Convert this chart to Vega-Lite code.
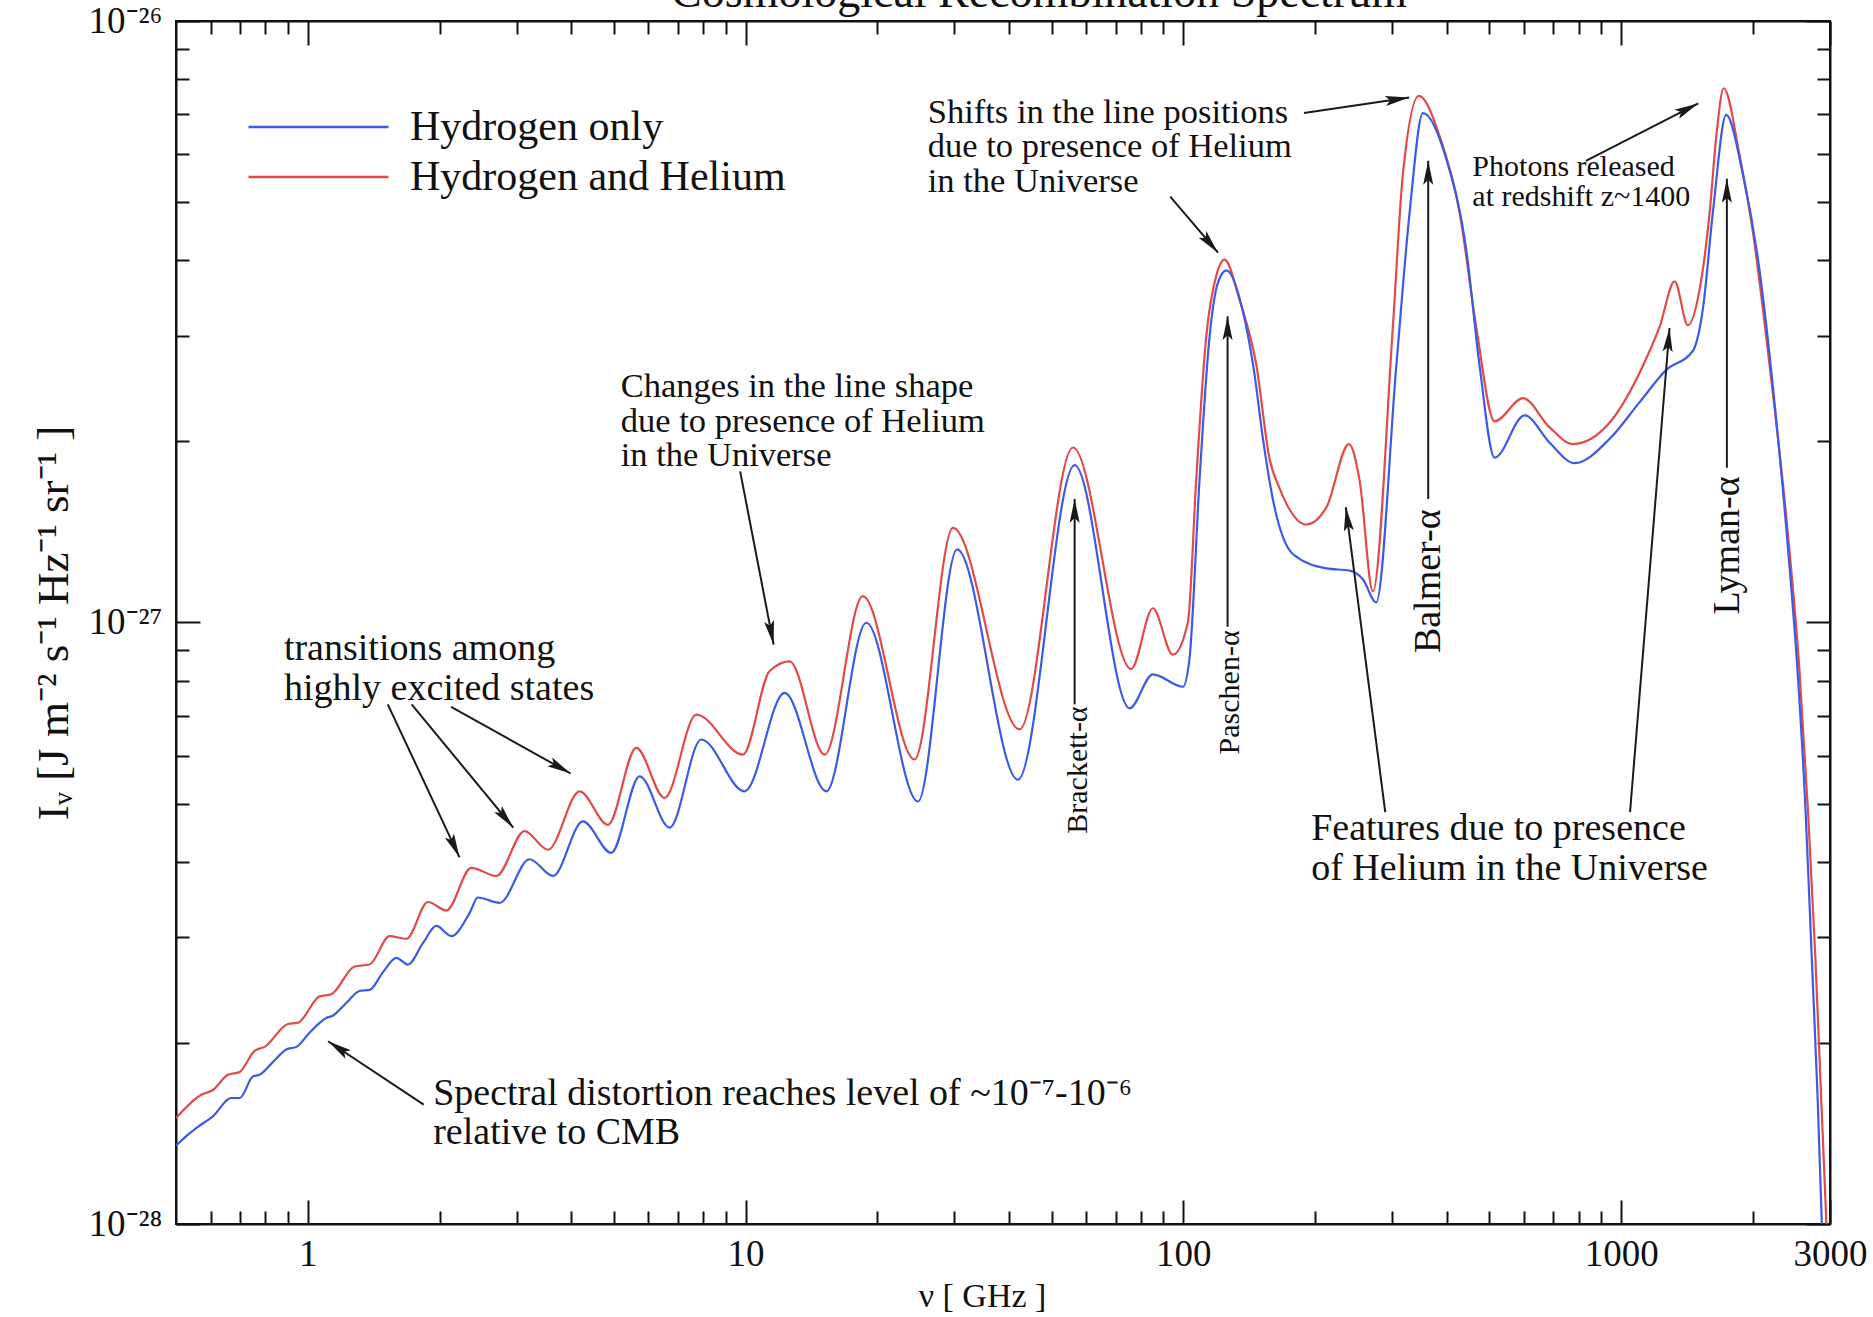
{
  "$schema": "https://vega.github.io/schema/vega-lite/v6.json",
  "width": 1654,
  "height": 1203,
  "autosize": {"type": "none"},
  "padding": {"left": 176, "top": 21, "right": 43, "bottom": 93},
  "background": "white",
  "title": {"text": "Cosmological Recombination Spectrum", "font": "Liberation Serif", "fontSize": 46, "fontWeight": "normal", "color": "#111", "anchor": "middle", "frame": "group", "baseline": "alphabetic", "offset": -13, "dy": 38, "dx": 36},
  "datasets": {
    "spectrum": [
      {"nu": 0.5, "I": 1.50e-28, "series": "Hydrogen and Helium"},
      {"nu": 0.571, "I": 1.64e-28, "series": "Hydrogen and Helium"},
      {"nu": 0.607, "I": 1.67e-28, "series": "Hydrogen and Helium"},
      {"nu": 0.657, "I": 1.77e-28, "series": "Hydrogen and Helium"},
      {"nu": 0.699, "I": 1.79e-28, "series": "Hydrogen and Helium"},
      {"nu": 0.756, "I": 1.94e-28, "series": "Hydrogen and Helium"},
      {"nu": 0.797, "I": 1.97e-28, "series": "Hydrogen and Helium"},
      {"nu": 0.901, "I": 2.15e-28, "series": "Hydrogen and Helium"},
      {"nu": 0.949, "I": 2.16e-28, "series": "Hydrogen and Helium"},
      {"nu": 1.064, "I": 2.39e-28, "series": "Hydrogen and Helium"},
      {"nu": 1.132, "I": 2.41e-28, "series": "Hydrogen and Helium"},
      {"nu": 1.279, "I": 2.68e-28, "series": "Hydrogen and Helium"},
      {"nu": 1.384, "I": 2.70e-28, "series": "Hydrogen and Helium"},
      {"nu": 1.538, "I": 3.01e-28, "series": "Hydrogen and Helium"},
      {"nu": 1.680, "I": 2.98e-28, "series": "Hydrogen and Helium"},
      {"nu": 1.882, "I": 3.43e-28, "series": "Hydrogen and Helium"},
      {"nu": 2.073, "I": 3.32e-28, "series": "Hydrogen and Helium"},
      {"nu": 2.363, "I": 3.91e-28, "series": "Hydrogen and Helium"},
      {"nu": 2.696, "I": 3.79e-28, "series": "Hydrogen and Helium"},
      {"nu": 3.128, "I": 4.50e-28, "series": "Hydrogen and Helium"},
      {"nu": 3.535, "I": 4.19e-28, "series": "Hydrogen and Helium"},
      {"nu": 4.178, "I": 5.24e-28, "series": "Hydrogen and Helium"},
      {"nu": 4.850, "I": 4.61e-28, "series": "Hydrogen and Helium"},
      {"nu": 5.627, "I": 6.19e-28, "series": "Hydrogen and Helium"},
      {"nu": 6.531, "I": 5.11e-28, "series": "Hydrogen and Helium"},
      {"nu": 7.720, "I": 7.03e-28, "series": "Hydrogen and Helium"},
      {"nu": 9.863, "I": 6.03e-28, "series": "Hydrogen and Helium"},
      {"nu": 11.34, "I": 8.30e-28, "series": "Hydrogen and Helium"},
      {"nu": 12.61, "I": 8.62e-28, "series": "Hydrogen and Helium"},
      {"nu": 15.16, "I": 6.03e-28, "series": "Hydrogen and Helium"},
      {"nu": 18.53, "I": 1.106e-27, "series": "Hydrogen and Helium"},
      {"nu": 24.33, "I": 5.92e-28, "series": "Hydrogen and Helium"},
      {"nu": 29.77, "I": 1.436e-27, "series": "Hydrogen and Helium"},
      {"nu": 42.26, "I": 6.64e-28, "series": "Hydrogen and Helium"},
      {"nu": 55.96, "I": 1.954e-27, "series": "Hydrogen and Helium"},
      {"nu": 76.03, "I": 8.37e-28, "series": "Hydrogen and Helium"},
      {"nu": 85.2, "I": 1.056e-27, "series": "Hydrogen and Helium"},
      {"nu": 94.62, "I": 8.84e-28, "series": "Hydrogen and Helium"},
      {"nu": 102.4, "I": 1.0e-27, "series": "Hydrogen and Helium"},
      {"nu": 107.0, "I": 1.729e-27, "series": "Hydrogen and Helium"},
      {"nu": 112.8, "I": 2.99e-27, "series": "Hydrogen and Helium"},
      {"nu": 118.9, "I": 3.77e-27, "series": "Hydrogen and Helium"},
      {"nu": 124.2, "I": 4.01e-27, "series": "Hydrogen and Helium"},
      {"nu": 134.5, "I": 3.43e-27, "series": "Hydrogen and Helium"},
      {"nu": 146.8, "I": 2.68e-27, "series": "Hydrogen and Helium"},
      {"nu": 157.4, "I": 1.87e-27, "series": "Hydrogen and Helium"},
      {"nu": 166.0, "I": 1.67e-27, "series": "Hydrogen and Helium"},
      {"nu": 190.9, "I": 1.455e-27, "series": "Hydrogen and Helium"},
      {"nu": 212.2, "I": 1.554e-27, "series": "Hydrogen and Helium"},
      {"nu": 238.9, "I": 1.98e-27, "series": "Hydrogen and Helium"},
      {"nu": 252.8, "I": 1.72e-27, "series": "Hydrogen and Helium"},
      {"nu": 271.0, "I": 1.126e-27, "series": "Hydrogen and Helium"},
      {"nu": 301.0, "I": 3.10e-27, "series": "Hydrogen and Helium"},
      {"nu": 317.3, "I": 5.56e-27, "series": "Hydrogen and Helium"},
      {"nu": 345.2, "I": 7.51e-27, "series": "Hydrogen and Helium"},
      {"nu": 384.8, "I": 6.44e-27, "series": "Hydrogen and Helium"},
      {"nu": 427.7, "I": 4.80e-27, "series": "Hydrogen and Helium"},
      {"nu": 466.7, "I": 3.10e-27, "series": "Hydrogen and Helium"},
      {"nu": 514.1, "I": 2.16e-27, "series": "Hydrogen and Helium"},
      {"nu": 596.8, "I": 2.36e-27, "series": "Hydrogen and Helium"},
      {"nu": 686.6, "I": 2.11e-27, "series": "Hydrogen and Helium"},
      {"nu": 775.9, "I": 1.98e-27, "series": "Hydrogen and Helium"},
      {"nu": 941.5, "I": 2.15e-27, "series": "Hydrogen and Helium"},
      {"nu": 1121, "I": 2.67e-27, "series": "Hydrogen and Helium"},
      {"nu": 1224, "I": 3.10e-27, "series": "Hydrogen and Helium"},
      {"nu": 1325, "I": 3.69e-27, "series": "Hydrogen and Helium"},
      {"nu": 1421, "I": 3.12e-27, "series": "Hydrogen and Helium"},
      {"nu": 1511, "I": 3.58e-27, "series": "Hydrogen and Helium"},
      {"nu": 1593, "I": 4.80e-27, "series": "Hydrogen and Helium"},
      {"nu": 1650, "I": 6.44e-27, "series": "Hydrogen and Helium"},
      {"nu": 1715, "I": 7.73e-27, "series": "Hydrogen and Helium"},
      {"nu": 1865, "I": 5.98e-27, "series": "Hydrogen and Helium"},
      {"nu": 2000, "I": 4.46e-27, "series": "Hydrogen and Helium"},
      {"nu": 2184, "I": 2.67e-27, "series": "Hydrogen and Helium"},
      {"nu": 2385, "I": 1.49e-27, "series": "Hydrogen and Helium"},
      {"nu": 2556, "I": 8.28e-28, "series": "Hydrogen and Helium"},
      {"nu": 2673, "I": 4.84e-28, "series": "Hydrogen and Helium"},
      {"nu": 2776, "I": 2.80e-28, "series": "Hydrogen and Helium"},
      {"nu": 2864, "I": 1.62e-28, "series": "Hydrogen and Helium"},
      {"nu": 2956, "I": 9.34e-29, "series": "Hydrogen and Helium"},
      {"nu": 0.5, "I": 1.35e-28, "series": "Hydrogen only"},
      {"nu": 0.528, "I": 1.40e-28, "series": "Hydrogen only"},
      {"nu": 0.561, "I": 1.45e-28, "series": "Hydrogen only"},
      {"nu": 0.607, "I": 1.51e-28, "series": "Hydrogen only"},
      {"nu": 0.669, "I": 1.62e-28, "series": "Hydrogen only"},
      {"nu": 0.699, "I": 1.62e-28, "series": "Hydrogen only"},
      {"nu": 0.750, "I": 1.76e-28, "series": "Hydrogen only"},
      {"nu": 0.776, "I": 1.77e-28, "series": "Hydrogen only"},
      {"nu": 0.833, "I": 1.86e-28, "series": "Hydrogen only"},
      {"nu": 0.893, "I": 1.95e-28, "series": "Hydrogen only"},
      {"nu": 0.942, "I": 1.97e-28, "series": "Hydrogen only"},
      {"nu": 1.009, "I": 2.08e-28, "series": "Hydrogen only"},
      {"nu": 1.102, "I": 2.20e-28, "series": "Hydrogen only"},
      {"nu": 1.141, "I": 2.22e-28, "series": "Hydrogen only"},
      {"nu": 1.224, "I": 2.33e-28, "series": "Hydrogen only"},
      {"nu": 1.313, "I": 2.44e-28, "series": "Hydrogen only"},
      {"nu": 1.384, "I": 2.45e-28, "series": "Hydrogen only"},
      {"nu": 1.484, "I": 2.62e-28, "series": "Hydrogen only"},
      {"nu": 1.593, "I": 2.77e-28, "series": "Hydrogen only"},
      {"nu": 1.693, "I": 2.70e-28, "series": "Hydrogen only"},
      {"nu": 1.832, "I": 2.93e-28, "series": "Hydrogen only"},
      {"nu": 1.966, "I": 3.13e-28, "series": "Hydrogen only"},
      {"nu": 2.127, "I": 3.01e-28, "series": "Hydrogen only"},
      {"nu": 2.343, "I": 3.29e-28, "series": "Hydrogen only"},
      {"nu": 2.446, "I": 3.49e-28, "series": "Hydrogen only"},
      {"nu": 2.743, "I": 3.42e-28, "series": "Hydrogen only"},
      {"nu": 3.211, "I": 4.04e-28, "series": "Hydrogen only"},
      {"nu": 3.630, "I": 3.79e-28, "series": "Hydrogen only"},
      {"nu": 4.250, "I": 4.67e-28, "series": "Hydrogen only"},
      {"nu": 4.935, "I": 4.14e-28, "series": "Hydrogen only"},
      {"nu": 5.728, "I": 5.55e-28, "series": "Hydrogen only"},
      {"nu": 6.707, "I": 4.56e-28, "series": "Hydrogen only"},
      {"nu": 7.921, "I": 6.39e-28, "series": "Hydrogen only"},
      {"nu": 9.95, "I": 5.24e-28, "series": "Hydrogen only"},
      {"nu": 12.28, "I": 7.64e-28, "series": "Hydrogen only"},
      {"nu": 15.29, "I": 5.24e-28, "series": "Hydrogen only"},
      {"nu": 18.87, "I": 9.99e-28, "series": "Hydrogen only"},
      {"nu": 24.76, "I": 5.04e-28, "series": "Hydrogen only"},
      {"nu": 30.42, "I": 1.323e-27, "series": "Hydrogen only"},
      {"nu": 41.89, "I": 5.48e-28, "series": "Hydrogen only"},
      {"nu": 56.45, "I": 1.826e-27, "series": "Hydrogen only"},
      {"nu": 75.37, "I": 7.20e-28, "series": "Hydrogen only"},
      {"nu": 85.2, "I": 8.20e-28, "series": "Hydrogen only"},
      {"nu": 99.75, "I": 7.82e-28, "series": "Hydrogen only"},
      {"nu": 103.3, "I": 8.72e-28, "series": "Hydrogen only"},
      {"nu": 108.9, "I": 1.729e-27, "series": "Hydrogen only"},
      {"nu": 114.8, "I": 2.99e-27, "series": "Hydrogen only"},
      {"nu": 119.9, "I": 3.67e-27, "series": "Hydrogen only"},
      {"nu": 125.4, "I": 3.85e-27, "series": "Hydrogen only"},
      {"nu": 136.8, "I": 3.29e-27, "series": "Hydrogen only"},
      {"nu": 144.9, "I": 2.63e-27, "series": "Hydrogen only"},
      {"nu": 152.3, "I": 2.00e-27, "series": "Hydrogen only"},
      {"nu": 160.2, "I": 1.60e-27, "series": "Hydrogen only"},
      {"nu": 177.9, "I": 1.30e-27, "series": "Hydrogen only"},
      {"nu": 212.2, "I": 1.23e-27, "series": "Hydrogen only"},
      {"nu": 239.8, "I": 1.22e-27, "series": "Hydrogen only"},
      {"nu": 257.1, "I": 1.18e-27, "series": "Hydrogen only"},
      {"nu": 275.8, "I": 1.08e-27, "series": "Hydrogen only"},
      {"nu": 306.5, "I": 2.67e-27, "series": "Hydrogen only"},
      {"nu": 328.7, "I": 4.80e-27, "series": "Hydrogen only"},
      {"nu": 352.6, "I": 7.03e-27, "series": "Hydrogen only"},
      {"nu": 398.6, "I": 5.90e-27, "series": "Hydrogen only"},
      {"nu": 443.1, "I": 4.15e-27, "series": "Hydrogen only"},
      {"nu": 475.0, "I": 2.67e-27, "series": "Hydrogen only"},
      {"nu": 514.1, "I": 1.88e-27, "series": "Hydrogen only"},
      {"nu": 602.0, "I": 2.21e-27, "series": "Hydrogen only"},
      {"nu": 686.6, "I": 1.99e-27, "series": "Hydrogen only"},
      {"nu": 783.2, "I": 1.84e-27, "series": "Hydrogen only"},
      {"nu": 941.5, "I": 2.02e-27, "series": "Hydrogen only"},
      {"nu": 1100, "I": 2.32e-27, "series": "Hydrogen only"},
      {"nu": 1268, "I": 2.63e-27, "series": "Hydrogen only"},
      {"nu": 1459, "I": 2.83e-27, "series": "Hydrogen only"},
      {"nu": 1538, "I": 3.33e-27, "series": "Hydrogen only"},
      {"nu": 1620, "I": 4.80e-27, "series": "Hydrogen only"},
      {"nu": 1738, "I": 6.98e-27, "series": "Hydrogen only"},
      {"nu": 1897, "I": 5.56e-27, "series": "Hydrogen only"},
      {"nu": 2071, "I": 3.85e-27, "series": "Hydrogen only"},
      {"nu": 2242, "I": 2.31e-27, "series": "Hydrogen only"},
      {"nu": 2418, "I": 1.27e-27, "series": "Hydrogen only"},
      {"nu": 2527, "I": 8.39e-28, "series": "Hydrogen only"},
      {"nu": 2639, "I": 4.84e-28, "series": "Hydrogen only"},
      {"nu": 2724, "I": 2.80e-28, "series": "Hydrogen only"},
      {"nu": 2811, "I": 1.62e-28, "series": "Hydrogen only"},
      {"nu": 2883, "I": 9.34e-29, "series": "Hydrogen only"}
    ],
    "arrows": [
      {"nu": 9.72, "I": 1.783e-27, "nu2": 11.59, "I2": 9.19e-28, "dir": 169},
      {"nu": 1.523, "I": 7.31e-28, "nu2": 2.221, "I2": 4.07e-28, "dir": 155},
      {"nu": 1.727, "I": 7.31e-28, "nu2": 2.947, "I2": 4.56e-28, "dir": 140.5},
      {"nu": 2.125, "I": 7.24e-28, "nu2": 3.985, "I2": 5.61e-28, "dir": 119},
      {"nu": 1.84, "I": 1.579e-28, "nu2": 1.113, "I2": 2.013e-28, "dir": 303.5},
      {"nu": 188.6, "I": 7.03e-27, "nu2": 328.0, "I2": 7.46e-27, "dir": 81.6},
      {"nu": 93.33, "I": 5.105e-27, "nu2": 120.0, "I2": 4.12e-27, "dir": 139.6},
      {"nu": 830.8, "I": 5.856e-27, "nu2": 1500, "I2": 7.295e-27, "dir": 63},
      {"nu": 56.45, "I": 7.31e-28, "nu2": 56.45, "I2": 1.605e-27, "dir": 0},
      {"nu": 126.2, "I": 9.84e-28, "nu2": 126.2, "I2": 3.231e-27, "dir": 0},
      {"nu": 362.5, "I": 1.605e-27, "nu2": 362.5, "I2": 5.856e-27, "dir": 0},
      {"nu": 1744, "I": 1.808e-27, "nu2": 1744, "I2": 5.468e-27, "dir": 0},
      {"nu": 289.2, "I": 4.84e-28, "nu2": 235.0, "I2": 1.555e-27, "dir": 352.6},
      {"nu": 1048, "I": 4.84e-28, "nu2": 1290, "I2": 3.088e-27, "dir": 4.7}
    ],
    "notesMedium": [
      {"nu": 5.187, "I": 2.368e-27, "label": "Changes in the line shape\ndue to presence of Helium\nin the Universe"},
      {"nu": 26.07, "I": 6.779e-27, "label": "Shifts in the line positions\ndue to presence of Helium\nin the Universe"}
    ],
    "notesLarge": [
      {"nu": 0.882, "I": 8.658e-28, "label": "transitions among\nhighly excited states"},
      {"nu": 1.934, "I": 1.579e-28, "label": "Spectral distortion reaches level of ~10⁻⁷-10⁻⁶\nrelative to CMB"},
      {"nu": 195.9, "I": 4.341e-28, "label": "Features due to presence\nof Helium in the Universe"}
    ],
    "notesSmall": [
      {"nu": 457.3, "I": 5.518e-27, "label": "Photons released\nat redshift z~1400"}
    ],
    "lineLabelsSmall": [
      {"nu": 57.54, "I": 5.684e-28, "label": "Brackett-α"},
      {"nu": 127.8, "I": 7.653e-28, "label": "Paschen-α"}
    ],
    "lineLabelsLarge": [
      {"nu": 364.8, "I": 1.171e-27, "label": "Balmer-α"},
      {"nu": 1755, "I": 1.343e-27, "label": "Lyman-α"}
    ]
  },
  "layer": [
    {
      "data": {"name": "spectrum"},
      "mark": {"type": "line", "clip": true, "strokeWidth": 2.2, "interpolate": "monotone"},
      "encoding": {
        "x": {"field": "nu", "type": "quantitative", "scale": {"type": "log", "domain": [0.5, 3000], "nice": false},
          "axis": {"orient": "bottom", "title": "ν [ GHz ]", "titleFont": "Liberation Serif", "titleFontSize": 34, "titleFontWeight": "normal", "titleColor": "#111", "titlePadding": -4, "titleX": 806,
            "values": [0.6, 0.7, 0.8, 0.9, 1, 2, 3, 4, 5, 6, 7, 8, 9, 10, 20, 30, 40, 50, 60, 70, 80, 90, 100, 200, 300, 400, 500, 600, 700, 800, 900, 1000, 2000, 3000],
            "labelExpr": "(datum.value == 1 || datum.value == 10 || datum.value == 100 || datum.value == 1000 || datum.value == 3000) ? ('' + datum.value) : ''",
            "tickSize": {"condition": {"test": "datum.value == 1 || datum.value == 10 || datum.value == 100 || datum.value == 1000 || datum.value == 3000", "value": -24}, "value": -13},
            "labelPadding": 36, "labelFlush": false, "labelOverlap": false, "labelBound": false}},
        "y": {"field": "I", "type": "quantitative", "scale": {"type": "log", "domain": [1e-28, 1e-26], "nice": false},
          "axis": {"orient": "left", "title": "Iᵥ  [J m⁻²  s⁻¹  Hz⁻¹  sr⁻¹ ]", "titleFont": "Liberation Serif", "titleFontSize": 45, "titleFontWeight": "normal", "titleColor": "#111", "titlePadding": 12,
            "values": [1e-28, 2e-28, 3e-28, 4e-28, 5e-28, 6e-28, 7e-28, 8e-28, 9e-28, 1e-27, 2e-27, 3e-27, 4e-27, 5e-27, 6e-27, 7e-27, 8e-27, 9e-27, 1e-26],
            "labelExpr": "datum.value > 0.99e-26 ? '10⁻²⁶' : (datum.value > 0.99e-27 && datum.value < 1.01e-27) ? '10⁻²⁷' : datum.value < 1.01e-28 ? '10⁻²⁸' : ''",
            "tickSize": {"condition": {"test": "datum.value > 0.99e-26 || (datum.value > 0.99e-27 && datum.value < 1.01e-27) || datum.value < 1.01e-28", "value": -24}, "value": -13},
            "labelPadding": 38, "labelFlush": false, "labelOverlap": false, "labelBound": false}},
        "color": {"field": "series", "type": "nominal",
          "scale": {"domain": ["Hydrogen only", "Hydrogen and Helium"], "range": ["#3d5ae6", "#e24a4a"]},
          "legend": {"orient": "none", "legendX": 121.5, "legendY": 85, "title": null, "symbolType": "M-4,0H4", "symbolSize": 1225, "symbolStrokeWidth": 2.5, "symbolFillColor": "transparent", "labelFont": "Liberation Serif", "labelFontSize": 42, "labelColor": "#111", "labelOffset": 70.5, "rowPadding": 8, "padding": 0, "labelLimit": 0}}
      }
    },
    {
      "data": {"name": "arrows"},
      "mark": {"type": "rule", "color": "#1a1a1a", "strokeWidth": 2},
      "encoding": {
        "x": {"field": "nu", "type": "quantitative", "scale": {"type": "log", "domain": [0.5, 3000], "nice": false},
          "axis": {"orient": "top", "title": null, "labels": false,
            "values": [0.6, 0.7, 0.8, 0.9, 1, 2, 3, 4, 5, 6, 7, 8, 9, 10, 20, 30, 40, 50, 60, 70, 80, 90, 100, 200, 300, 400, 500, 600, 700, 800, 900, 1000, 2000, 3000],
            "tickSize": {"condition": {"test": "datum.value == 1 || datum.value == 10 || datum.value == 100 || datum.value == 1000 || datum.value == 3000", "value": -24}, "value": -13}}},
        "y": {"field": "I", "type": "quantitative", "scale": {"type": "log", "domain": [1e-28, 1e-26], "nice": false},
          "axis": {"orient": "right", "title": null, "labels": false,
            "values": [1e-28, 2e-28, 3e-28, 4e-28, 5e-28, 6e-28, 7e-28, 8e-28, 9e-28, 1e-27, 2e-27, 3e-27, 4e-27, 5e-27, 6e-27, 7e-27, 8e-27, 9e-27, 1e-26],
            "tickSize": {"condition": {"test": "datum.value > 0.99e-26 || (datum.value > 0.99e-27 && datum.value < 1.01e-27) || datum.value < 1.01e-28", "value": -24}, "value": -13}}},
        "x2": {"field": "nu2"},
        "y2": {"field": "I2"}
      }
    },
    {
      "data": {"name": "arrows"},
      "mark": {"type": "point", "shape": "M0,0L0.42,2L0,1.6L-0.42,2Z", "filled": true, "color": "#1a1a1a", "size": 576, "opacity": 1, "strokeWidth": 0},
      "encoding": {
        "x": {"field": "nu2", "type": "quantitative", "scale": {"type": "log", "domain": [0.5, 3000], "nice": false}, "axis": null},
        "y": {"field": "I2", "type": "quantitative", "scale": {"type": "log", "domain": [1e-28, 1e-26], "nice": false}, "axis": null},
        "angle": {"field": "dir", "type": "quantitative", "scale": null}
      }
    },
    {
      "data": {"name": "notesMedium"},
      "mark": {"type": "text", "align": "left", "baseline": "alphabetic", "font": "Liberation Serif", "fontSize": 34.5, "lineHeight": 34.5, "lineBreak": "\n", "color": "#111"},
      "encoding": {
        "x": {"field": "nu", "type": "quantitative", "scale": {"type": "log", "domain": [0.5, 3000], "nice": false}, "axis": null},
        "y": {"field": "I", "type": "quantitative", "scale": {"type": "log", "domain": [1e-28, 1e-26], "nice": false}, "axis": null},
        "text": {"field": "label"}
      }
    },
    {
      "data": {"name": "notesLarge"},
      "mark": {"type": "text", "align": "left", "baseline": "alphabetic", "font": "Liberation Serif", "fontSize": 38, "lineHeight": 39.5, "lineBreak": "\n", "color": "#111"},
      "encoding": {
        "x": {"field": "nu", "type": "quantitative", "scale": {"type": "log", "domain": [0.5, 3000], "nice": false}, "axis": null},
        "y": {"field": "I", "type": "quantitative", "scale": {"type": "log", "domain": [1e-28, 1e-26], "nice": false}, "axis": null},
        "text": {"field": "label"}
      }
    },
    {
      "data": {"name": "notesSmall"},
      "mark": {"type": "text", "align": "left", "baseline": "alphabetic", "font": "Liberation Serif", "fontSize": 30, "lineHeight": 30, "lineBreak": "\n", "color": "#111"},
      "encoding": {
        "x": {"field": "nu", "type": "quantitative", "scale": {"type": "log", "domain": [0.5, 3000], "nice": false}, "axis": null},
        "y": {"field": "I", "type": "quantitative", "scale": {"type": "log", "domain": [1e-28, 1e-26], "nice": false}, "axis": null},
        "text": {"field": "label"}
      }
    },
    {
      "data": {"name": "lineLabelsSmall"},
      "mark": {"type": "text", "align": "center", "baseline": "middle", "angle": 270, "font": "Liberation Serif", "fontSize": 30, "color": "#111"},
      "encoding": {
        "x": {"field": "nu", "type": "quantitative", "scale": {"type": "log", "domain": [0.5, 3000], "nice": false}, "axis": null},
        "y": {"field": "I", "type": "quantitative", "scale": {"type": "log", "domain": [1e-28, 1e-26], "nice": false}, "axis": null},
        "text": {"field": "label"}
      }
    },
    {
      "data": {"name": "lineLabelsLarge"},
      "mark": {"type": "text", "align": "center", "baseline": "middle", "angle": 270, "font": "Liberation Serif", "fontSize": 38, "color": "#111"},
      "encoding": {
        "x": {"field": "nu", "type": "quantitative", "scale": {"type": "log", "domain": [0.5, 3000], "nice": false}, "axis": null},
        "y": {"field": "I", "type": "quantitative", "scale": {"type": "log", "domain": [1e-28, 1e-26], "nice": false}, "axis": null},
        "text": {"field": "label"}
      }
    }
  ],
  "resolve": {"axis": {"x": "independent", "y": "independent"}},
  "config": {
    "view": {"stroke": "#111", "strokeWidth": 2},
    "axis": {"grid": false, "domainColor": "#111", "domainWidth": 2, "tickColor": "#111", "tickWidth": 2, "labelFont": "Liberation Serif", "labelFontSize": 37, "labelColor": "#111"}
  }
}
